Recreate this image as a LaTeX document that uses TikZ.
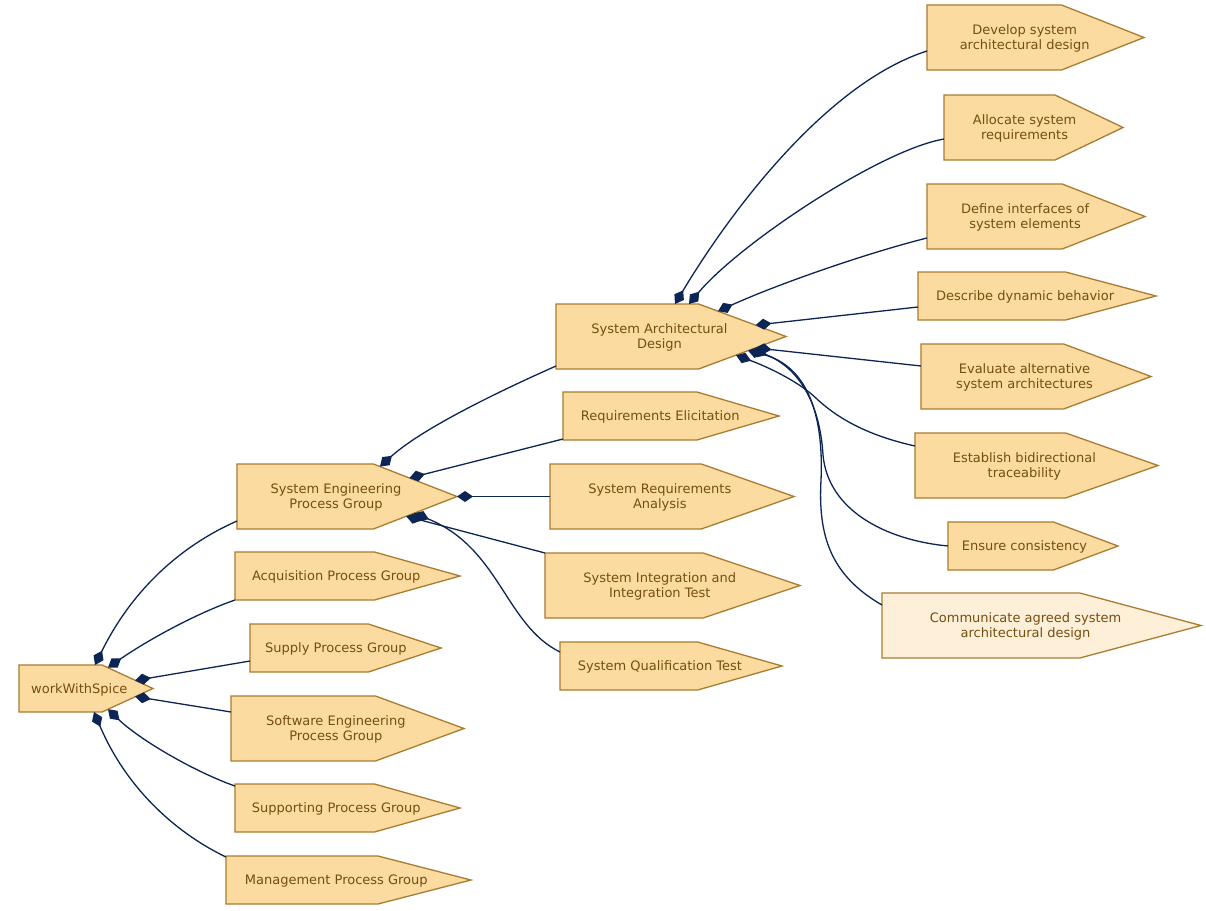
\documentclass[tikz,border=0pt]{standalone}
\usepackage{fontspec}
\setmainfont{DejaVu Sans}
\usetikzlibrary{arrows.meta,calc}
\definecolor{boxfill}{RGB}{251,219,160}
\definecolor{boxfilllight}{RGB}{254,239,217}
\definecolor{boxdraw}{RGB}{170,124,48}
\definecolor{boxtext}{RGB}{118,78,16}
\definecolor{edgecol}{RGB}{12,37,84}
\tikzset{
  boxarea/.style={rectangle, draw=none, inner sep=0pt, outer sep=0pt},
  boxshape/.style={draw=boxdraw, line width=1.3pt, line join=miter},
  boxlabel/.style={text=boxtext, align=center, inner sep=0pt, font=\fontsize{13pt}{14.3pt}\selectfont},
  conn/.style={draw=edgecol, line width=1.3pt, -{Diamond[length=16pt,width=11pt]}},
}
\newcommand{\ProcBox}[7]{%
  \pgfmathsetmacro{\pbw}{#4-#2}%
  \pgfmathsetmacro{\pbh}{#5-#3}%
  \node[boxarea, minimum width=\pbw pt, minimum height=\pbh pt] (#1) at ({(#2+#4)/2},{(#3+#5)/2}) {};
  \filldraw[boxshape, fill=#6] (#1.north west) -- ($(#1.north west)!0.62!(#1.north east)$) -- (#1.east)
     -- ($(#1.south west)!0.62!(#1.south east)$) -- (#1.south west) -- cycle;
  \node[boxlabel] (#1-t) at ($(#1.west)!0.45!(#1.east)+(0,1)$) {#7};
}
\begin{document}
\begin{tikzpicture}[x=1pt,y=-1pt]
\fill[white] (0,0) rectangle (1206,910);
\useasboundingbox (0,0) rectangle (1206,910);

% boxes
\ProcBox{W}{19}{665}{153}{712}{boxfill}{workWithSpice}
\ProcBox{sepg}{237}{464}{457}{529}{boxfill}{System Engineering\\Process Group}
\ProcBox{acq}{235}{552}{460}{600}{boxfill}{Acquisition Process Group}
\ProcBox{sup}{250}{624}{441}{672}{boxfill}{Supply Process Group}
\ProcBox{sw}{231}{696}{464}{761}{boxfill}{Software Engineering\\Process Group}
\ProcBox{spt}{235}{784}{460}{832}{boxfill}{Supporting Process Group}
\ProcBox{mgt}{226}{856}{471}{904}{boxfill}{Management Process Group}
\ProcBox{sad}{556}{304}{786}{369}{boxfill}{System Architectural\\Design}
\ProcBox{rel}{563}{392}{779}{440}{boxfill}{Requirements Elicitation}
\ProcBox{sra}{550}{464}{794}{529}{boxfill}{System Requirements\\Analysis}
\ProcBox{sit}{545}{553}{800}{618}{boxfill}{System Integration and\\Integration Test}
\ProcBox{sqt}{560}{642}{782}{690}{boxfill}{System Qualification Test}
\ProcBox{dev}{927}{5}{1144}{70}{boxfill}{Develop system\\architectural design}
\ProcBox{alo}{944}{95}{1123}{160}{boxfill}{Allocate system\\requirements}
\ProcBox{dfi}{927}{184}{1145}{249}{boxfill}{Define interfaces of\\system elements}
\ProcBox{dsc}{918}{272}{1156}{320}{boxfill}{Describe dynamic behavior}
\ProcBox{eva}{921}{344}{1151}{409}{boxfill}{Evaluate alternative\\system architectures}
\ProcBox{est}{915}{433}{1158}{498}{boxfill}{Establish bidirectional\\traceability}
\ProcBox{ens}{948}{522}{1118}{570}{boxfill}{Ensure consistency}
\ProcBox{com}{882}{593}{1201}{658}{boxfilllight}{Communicate agreed system\\architectural design}

% connectors into workWithSpice
\draw[conn] ($(sepg.south west)+(0,-8)$) .. controls (187,543) and (135,584) .. ($(W.north west)+(76,0)$);
\draw[conn] (acq.south west) .. controls (195,614) and (148,640) .. ($(W.north west)+(89,2.5)$);
\draw[conn] ($(sup.south west)+(0,-11)$) -- ($(W.north west)+(116,15.5)$);
\draw[conn] ($(sw.north west)+(0,16)$) -- ($(W.north west)+(116,31.5)$);
\draw[conn] ($(spt.north west)+(0,2)$) .. controls (195,772) and (140,740) .. ($(W.north west)+(89,44.2)$);
\draw[conn] ($(mgt.north west)+(0,1)$) .. controls (180,835) and (128,792) .. ($(W.north west)+(75,47)$);

% connectors into System Engineering Process Group
\draw[conn] ($(sad.south west)+(0,-3)$) .. controls (511,386) and (425,426) .. ($(sepg.north west)+(143,2.5)$);
\draw[conn] ($(rel.south west)+(0,-1)$) -- ($(sepg.north west)+(172.4,14)$);
\draw[conn] (sra.west) -- (sepg.east);
\draw[conn] (sit.north west) -- ($(sepg.north west)+(169.2,52.3)$);
\draw[conn] ($(sqt.north west)+(0,10)$) .. controls (505,625) and (500,548) .. ($(sepg.north west)+(177,49.2)$);

% connectors into System Architectural Design
\draw[conn] ($(dev.north west)+(0,46)$) .. controls (830,82) and (735,204) .. ($(sad.north west)+(119,0)$);
\draw[conn] ($(alo.north west)+(0,44)$) .. controls (880,150) and (739,244) .. ($(sad.north west)+(133,0)$);
\draw[conn] ($(dfi.north west)+(0,54)$) .. controls (867,253) and (778,284) .. ($(sad.north west)+(162,7.2)$);
\draw[conn] ($(dsc.north west)+(0,35)$) -- ($(sad.north west)+(199.6,21.1)$);
\draw[conn] ($(eva.north west)+(0,22)$) -- ($(sad.north west)+(199.6,43.9)$);
\draw[conn] ($(est.north west)+(0,13)$) .. controls (870,436) and (840,420) .. (818,400)
   .. controls (800,382) and (768,367) .. ($(sad.north west)+(180,51.2)$);
\draw[conn] (ens.west) .. controls (885,540) and (828,510) .. (823,455)
   .. controls (820,405) and (800,368) .. ($(sad.north west)+(196,45.1)$);
\draw[conn] ($(com.north west)+(0,12)$) .. controls (830,575) and (818,535) .. (821,480)
   .. controls (824,410) and (805,365) .. ($(sad.north west)+(192,46.6)$);
\end{tikzpicture}
\end{document}
